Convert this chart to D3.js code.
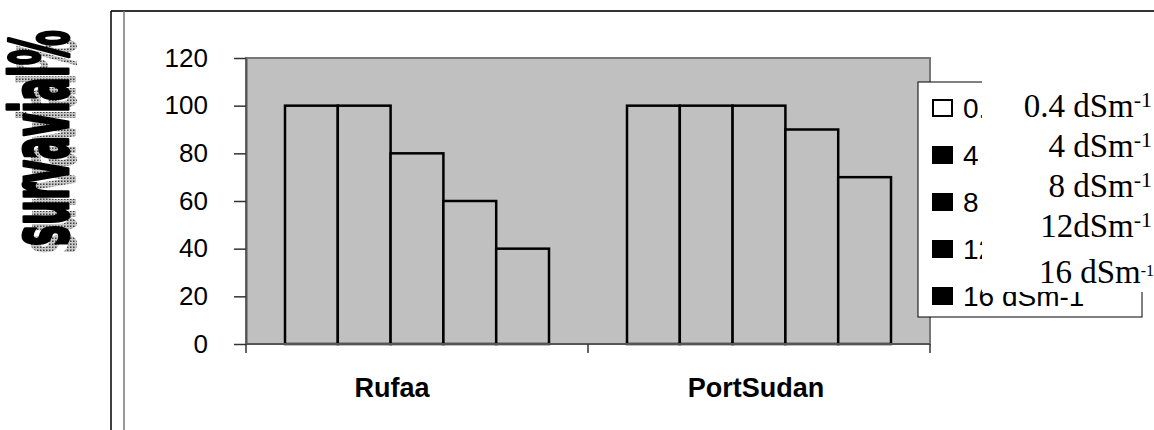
<!DOCTYPE html>
<html>
<head>
<meta charset="utf-8">
<script src="https://cdn.jsdelivr.net/npm/d3@7/dist/d3.min.js"></script>
<style>
  body { margin: 0; background: #fff; }
  svg { display: block; }
</style>
</head>
<body>
<div id="chart"></div>
<script>
// chart values
const categories = ["Rufaa", "PortSudan"];
const seriesNames = ["0.4 dSm-1", "4 dSm-1", "8 dSm-1", "12 dSm-1", "16 dSm-1"];
const rufaaValues = [100, 100, 80, 60, 40];
const portSudanValues = [100, 100, 100, 90, 70];
const yTicks = [0, 20, 40, 60, 80, 100, 120];
// text box pasted over the legend
const overlayMain = ["0.4 dSm", "4 dSm", "8 dSm", "12dSm", "16 dSm"];
const overlaySup = ["-1", "-1", "-1", "-1", "-1"];

const width = 1154, height = 430;
const plot = { left: 246, right: 930, top: 58, bottom: 344 };
const swatchFill = ["#ffffff", "#000000", "#000000", "#000000", "#000000"];

const svg = d3.select("#chart")
  .append("svg")
  .attr("width", width)
  .attr("height", height);

// shadow texture for the title
const defs = svg.append("defs");
const pat = defs.append("pattern")
  .attr("id", "dots")
  .attr("width", 3)
  .attr("height", 3)
  .attr("patternUnits", "userSpaceOnUse");
pat.append("rect").attr("width", 3).attr("height", 3).attr("fill", "#c8c8c8");
pat.append("rect").attr("width", 1.5).attr("height", 1.5).attr("fill", "#404040");

// chart frame
svg.append("line").attr("x1", 111).attr("x2", width).attr("y1", 11).attr("y2", 11)
  .attr("stroke", "#333").attr("stroke-width", 2);
svg.append("line").attr("x1", 111).attr("x2", 111).attr("y1", 11).attr("y2", height)
  .attr("stroke", "#000").attr("stroke-width", 1.5);
svg.append("line").attr("x1", 124).attr("x2", 124).attr("y1", 11).attr("y2", height)
  .attr("stroke", "#777").attr("stroke-width", 1.5);

// y title, WordArt-ish with a dotted shadow
const titleOpts = [
  { dx: 8, dy: 8, fill: "url(#dots)", stroke: "none" },
  { dx: 0, dy: 0, fill: "#000", stroke: "#000" }
];
svg.selectAll("text.ytitle")
  .data(titleOpts)
  .enter()
  .append("text")
  .attr("class", "ytitle")
  .attr("transform", d => `translate(${68 + d.dx}, ${138 + d.dy}) rotate(-90)`)
  .attr("text-anchor", "middle")
  .attr("font-family", "'Liberation Sans Narrow', 'DejaVu Sans Condensed', sans-serif")
  .attr("font-weight", "bold")
  .attr("font-size", 80)
  .attr("textLength", 216)
  .attr("lengthAdjust", "spacingAndGlyphs")
  .attr("fill", d => d.fill)
  .attr("stroke", d => d.stroke)
  .attr("stroke-width", 3)
  .attr("stroke-linejoin", "round")
  .text("survavial%");

// scales
const x0 = d3.scaleBand()
  .domain(categories)
  .range([plot.left, plot.right]);

const gapHalf = 39;
const x1 = d3.scaleBand()
  .domain(seriesNames)
  .range([gapHalf, x0.bandwidth() - gapHalf]);

const y = d3.scaleLinear()
  .domain([0, 120])
  .range([plot.bottom, plot.top]);

// plot area
svg.append("rect")
  .attr("x", plot.left)
  .attr("y", plot.top)
  .attr("width", plot.right - plot.left)
  .attr("height", plot.bottom - plot.top)
  .attr("fill", "#c0c0c0")
  .attr("stroke", "#777")
  .attr("stroke-width", 2);

// bars
const rows = categories.map((c, i) => ({
  cat: c,
  values: (i === 0 ? rufaaValues : portSudanValues).map((v, j) => ({ key: seriesNames[j], v: v }))
}));

svg.append("g")
  .selectAll("g")
  .data(rows)
  .enter()
  .append("g")
  .attr("transform", d => `translate(${x0(d.cat)}, 0)`)
  .selectAll("rect")
  .data(d => d.values)
  .enter()
  .append("rect")
  .attr("x", d => x1(d.key))
  .attr("y", d => y(d.v))
  .attr("width", x1.bandwidth())
  .attr("height", d => y(0) - y(d.v))
  .attr("fill", "#c0c0c0")
  .attr("stroke", "#000")
  .attr("stroke-width", 2.5);

// y axis
const yAxis = svg.append("g")
  .attr("transform", `translate(${plot.left}, 0)`)
  .call(d3.axisLeft(y).tickValues(yTicks).tickSize(12).tickPadding(26).tickSizeOuter(0));
yAxis.select(".domain").attr("stroke", "#555").attr("stroke-width", 2);
yAxis.selectAll(".tick line").attr("stroke", "#333").attr("stroke-width", 1.5);
yAxis.selectAll(".tick text")
  .attr("font-family", "Arial, 'Liberation Sans', sans-serif")
  .attr("font-size", 26)
  .attr("fill", "#000");

// x axis: ticks sit on the category boundaries
const xAxis = svg.append("g")
  .attr("transform", `translate(0, ${plot.bottom})`);
xAxis.append("line")
  .attr("x1", plot.left).attr("x2", plot.right)
  .attr("stroke", "#555").attr("stroke-width", 2);
const bounds = categories.map(c => x0(c)).concat([plot.right]);
xAxis.selectAll("line.tk")
  .data(bounds)
  .enter()
  .append("line")
  .attr("class", "tk")
  .attr("x1", d => d).attr("x2", d => d)
  .attr("y1", 0).attr("y2", 9)
  .attr("stroke", "#333").attr("stroke-width", 1.5);

const labelDx = [-25, -3];
xAxis.selectAll("text")
  .data(categories)
  .enter()
  .append("text")
  .attr("x", (d, i) => x0(d) + x0.bandwidth() / 2 + labelDx[i])
  .attr("y", 53)
  .attr("text-anchor", "middle")
  .attr("font-family", "Arial, 'Liberation Sans', sans-serif")
  .attr("font-weight", "bold")
  .attr("font-size", 27)
  .text(d => d);

// legend
const legend = svg.append("g").attr("class", "legend");
legend.append("rect")
  .attr("x", 918).attr("y", 82)
  .attr("width", 224).attr("height", 235)
  .attr("fill", "#fff")
  .attr("stroke", "#000")
  .attr("stroke-width", 1);

legend.selectAll("rect.sw")
  .data(seriesNames)
  .enter()
  .append("rect")
  .attr("class", "sw")
  .attr("x", 933)
  .attr("y", (d, i) => 108 + i * 47 - 8)
  .attr("width", 19)
  .attr("height", 16)
  .attr("fill", (d, i) => swatchFill[i])
  .attr("stroke", "#000")
  .attr("stroke-width", 2);

legend.selectAll("text")
  .data(seriesNames)
  .enter()
  .append("text")
  .attr("x", 963)
  .attr("y", (d, i) => 108 + i * 47)
  .attr("dy", ".36em")
  .attr("font-family", "Arial, 'Liberation Sans', sans-serif")
  .attr("font-size", 28)
  .text(d => d);

// white text box covering the right part of the legend
svg.append("rect")
  .attr("x", 982).attr("y", 60)
  .attr("width", width - 982).attr("height", 232)
  .attr("fill", "#fff");

const over = svg.selectAll("text.over")
  .data(overlayMain)
  .enter()
  .append("text")
  .attr("class", "over")
  .attr("x", (d, i) => i === 4 ? 1154 : 1152)
  .attr("y", (d, i) => 117 + i * 40 + (i === 4 ? 6 : 0))
  .attr("text-anchor", "end")
  .attr("font-family", "'Times New Roman', 'Liberation Serif', serif")
  .attr("font-size", 33)
  .attr("fill", "#000");
over.append("tspan").text(d => d);
over.append("tspan")
  .attr("dy", (d, i) => i === 4 ? -7 : -10)
  .attr("font-size", (d, i) => i === 4 ? 16 : 22)
  .text((d, i) => overlaySup[i]);
</script>
</body>
</html>
